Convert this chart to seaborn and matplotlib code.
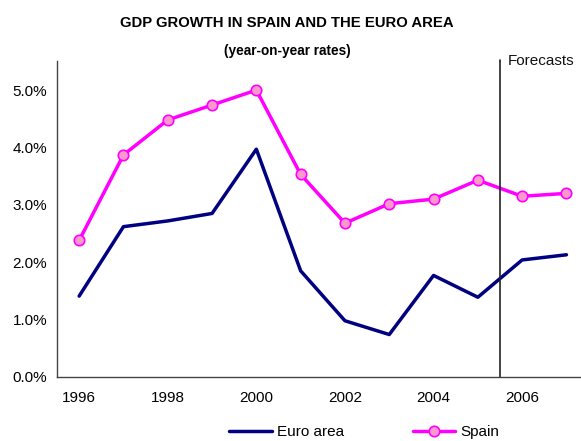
import matplotlib
matplotlib.use("Agg")
import matplotlib.pyplot as plt
import numpy as np
import pandas as pd
import seaborn as sns

years = [1996, 1997, 1998, 1999, 2000, 2001, 2002, 2003, 2004, 2005, 2006, 2007]
euro_area = [1.41, 2.62, 2.72, 2.85, 3.97, 1.85, 0.98, 0.74, 1.77, 1.39, 2.04, 2.13]
spain = [2.38, 3.87, 4.48, 4.74, 5.00, 3.53, 2.68, 3.02, 3.10, 3.43, 3.15, 3.20]
year_labels = ["1996", "1998", "2000", "2002", "2004", "2006"]
forecast_from = 2006

sns.set_style("white", rc={"text.color": "black", "xtick.color": "black",
                           "ytick.color": "black", "axes.labelcolor": "black"})
plt.rcParams['font.family'] = ['Liberation Sans', 'DejaVu Sans']

df = pd.DataFrame({"pos": np.arange(len(years)), "year": years,
                   "Euro area": euro_area, "Spain": spain})

fig = plt.figure(figsize=(5.81, 4.41), dpi=100)
ax = fig.add_axes([57 / 581, 1 - 377 / 441, 531.6 / 581, (377 - 61.4) / 441])

sns.lineplot(data=df, x="pos", y="Euro area", ax=ax, color="#000080", lw=2.5,
             label="Euro area")
sns.lineplot(data=df, x="pos", y="Spain", ax=ax, color="#FF00FF", lw=2.5,
             marker="o", markersize=7.5, markerfacecolor="#FF99CC",
             markeredgecolor="#FF00FF", markeredgewidth=1.2, label="Spain")

# forecast divider between 2005 and 2006
fpos = years.index(forecast_from) - 0.5
ax.axvline(fpos, color="#222222", lw=1.2)
ax.plot([fpos, fpos], [5.5, 5.52], color="#222222", lw=1.2, clip_on=False)
ax.text(fpos + 0.17, 5.5, "Forecasts", fontsize=11, va="center", ha="left",
        color="#111111", clip_on=False)

ax.set_xlim(-0.5, len(years) - 0.5)
ax.set_ylim(0, 5.5)
ax.set_yticks(np.arange(0, 5.01, 1.0))
ax.set_yticklabels([f"{v:.1f}%" for v in np.arange(0, 5.01, 1.0)], fontsize=11)
ax.set_xticks([years.index(int(y)) for y in year_labels])
ax.set_xticklabels(year_labels, fontsize=11)
ax.set_xticks(np.arange(-0.5, len(years)), minor=True)
ax.tick_params(axis="x", which="major", length=0, pad=10)
ax.tick_params(axis="x", which="minor", length=4, width=1, color="#444444", direction="out")
ax.tick_params(axis="y", length=4, width=1, color="#444444", direction="out", pad=3)
ax.set_xlabel("")
ax.set_ylabel("")
for s in ["top", "right"]:
    ax.spines[s].set_visible(False)
for s in ["left", "bottom"]:
    ax.spines[s].set_color("#444444")
    ax.spines[s].set_linewidth(1)

leg = ax.legend(loc="center", bbox_to_anchor=(364 / 581, 1 - 432 / 441),
                bbox_transform=fig.transFigure, ncol=2, frameon=False,
                fontsize=11, handlelength=2.8, columnspacing=4.5, handletextpad=0.3)

fig.text(287 / 581, 1 - 23 / 441, "GDP GROWTH IN SPAIN AND THE EURO AREA",
         ha="center", va="center", fontsize=10.7, fontweight="bold")
fig.text(287 / 581, 1 - 51 / 441, "(year-on-year rates)",
         ha="center", va="center", fontsize=9.8, fontweight="bold")

fig.savefig("out.png", dpi=100)
